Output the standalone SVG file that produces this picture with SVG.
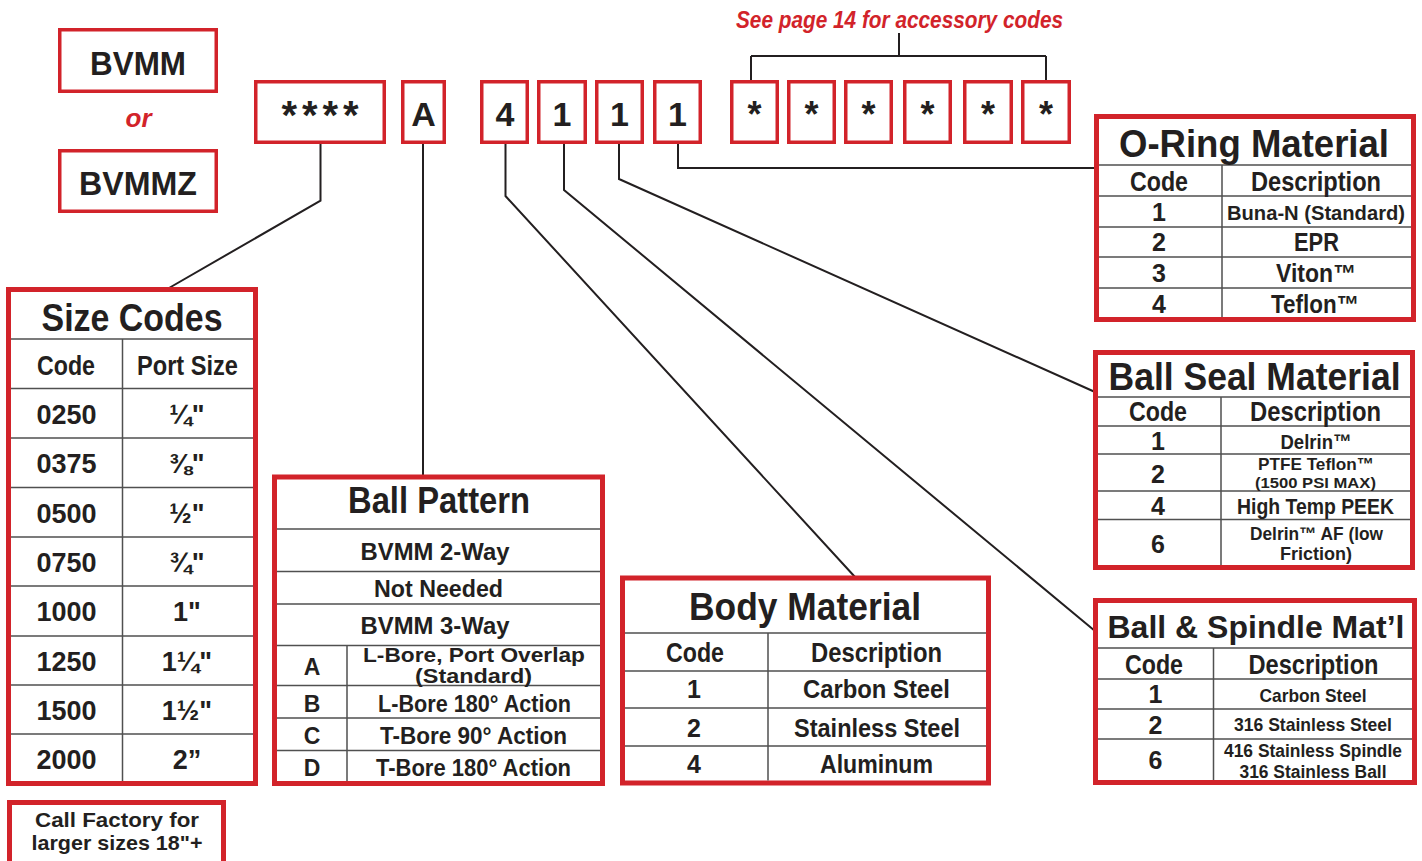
<svg xmlns="http://www.w3.org/2000/svg" width="1422" height="861" viewBox="0 0 1422 861">
<style>
.t{font-family:"Liberation Sans",Arial,sans-serif;font-weight:bold;fill:#231f20;text-anchor:middle}
.ri{fill:#d2232a;font-style:italic}
.box{fill:#fff;stroke:#d2232a;stroke-width:5}
.cbox{fill:#fff;stroke:#d2232a;stroke-width:3.5}
.grid{stroke:#505050;stroke-width:1.5;fill:none}
.conn{stroke:#231f20;stroke-width:2;fill:none}
.h{font-size:38px}
.hd{font-size:27px}
.c{font-size:34px}
</style>
<rect width="1422" height="861" fill="#fff"/>

<g id="connectors">
<path class="conn" d="M320.5 144 V200.7 L169 288"/>
<path class="conn" d="M423 144 V476"/>
<path class="conn" d="M505.5 144 V196 L855 577"/>
<path class="conn" d="M564 144 V190 L1095 631"/>
<path class="conn" d="M619 144 V179 L1095 392"/>
<path class="conn" d="M678 144 V168 H1095"/>
<path class="conn" d="M899 33 V56 M751 56 H1046 M751 56 V81 M1046 56 V81"/>
</g>

<g id="prefix-bvmm">
<rect class="cbox" x="59.75" y="29.75" width="156.5" height="61.5"/>
<text class="t" x="138" y="75" font-size="34" textLength="96" lengthAdjust="spacingAndGlyphs">BVMM</text>
</g>
<g id="or">
<text class="t ri" x="138.5" y="127" font-size="26">or</text>
</g>
<g id="prefix-bvmmz">
<rect class="cbox" x="59.75" y="150.75" width="156.5" height="60.5"/>
<text class="t" x="138" y="195" font-size="34" textLength="118" lengthAdjust="spacingAndGlyphs">BVMMZ</text>
</g>

<g id="code-size">
<rect class="cbox" x="255.75" y="81.75" width="128.5" height="60.5"/>
<text class="t" x="320" y="129" font-size="40" textLength="77">****</text>
</g>
<g id="code-a">
<rect class="cbox" x="402.75" y="81.75" width="41.5" height="60.5"/>
<text class="t c" x="423.5" y="126">A</text>
</g>
<g id="code-4">
<rect class="cbox" x="481.75" y="81.75" width="45.5" height="60.5"/>
<text class="t c" x="505" y="126">4</text>
</g>
<g id="code-1a">
<rect class="cbox" x="538.75" y="81.75" width="46.5" height="60.5"/>
<text class="t c" x="562" y="126">1</text>
</g>
<g id="code-1b">
<rect class="cbox" x="596.75" y="81.75" width="45.5" height="60.5"/>
<text class="t c" x="619.5" y="126">1</text>
</g>
<g id="code-1c">
<rect class="cbox" x="654.75" y="81.75" width="45.5" height="60.5"/>
<text class="t c" x="677.5" y="126">1</text>
</g>
<g id="acc-1"><rect class="cbox" x="731.75" y="81.75" width="45.5" height="60.5"/><text class="t" x="754.5" y="127" font-size="36">*</text></g>
<g id="acc-2"><rect class="cbox" x="788.75" y="81.75" width="45.5" height="60.5"/><text class="t" x="811.5" y="127" font-size="36">*</text></g>
<g id="acc-3"><rect class="cbox" x="845.75" y="81.75" width="45.5" height="60.5"/><text class="t" x="868.5" y="127" font-size="36">*</text></g>
<g id="acc-4"><rect class="cbox" x="904.75" y="81.75" width="45.5" height="60.5"/><text class="t" x="927.5" y="127" font-size="36">*</text></g>
<g id="acc-5"><rect class="cbox" x="964.75" y="81.75" width="46.5" height="60.5"/><text class="t" x="988" y="127" font-size="36">*</text></g>
<g id="acc-6"><rect class="cbox" x="1022.75" y="81.75" width="46.5" height="60.5"/><text class="t" x="1046" y="127" font-size="36">*</text></g>

<g id="accessory-note">
<text class="t ri" x="899.5" y="28" font-size="23" textLength="327" lengthAdjust="spacingAndGlyphs">See page 14 for accessory codes</text>
</g>

<g id="oring-table">
<rect class="box" x="1096.5" y="116.5" width="317" height="203"/>
<path class="grid" d="M1099 165 H1411 M1099 196 H1411 M1099 227 H1411 M1099 257 H1411 M1099 288 H1411 M1222 165 V317"/>
<text class="t h" x="1254" y="157" textLength="270" lengthAdjust="spacingAndGlyphs">O-Ring Material</text>
<text class="t hd" x="1159" y="191" textLength="58" lengthAdjust="spacingAndGlyphs">Code</text>
<text class="t hd" x="1316" y="191" textLength="130" lengthAdjust="spacingAndGlyphs">Description</text>
<text class="t" x="1159" y="221" font-size="25">1</text>
<text class="t" x="1316" y="219.5" font-size="21" textLength="178" lengthAdjust="spacingAndGlyphs">Buna-N (Standard)</text>
<text class="t" x="1159" y="251" font-size="25">2</text>
<text class="t" x="1316.5" y="250.5" font-size="25" textLength="45" lengthAdjust="spacingAndGlyphs">EPR</text>
<text class="t" x="1159" y="282" font-size="25">3</text>
<text class="t" x="1316" y="282" font-size="25" textLength="80" lengthAdjust="spacingAndGlyphs">Viton™</text>
<text class="t" x="1159" y="313" font-size="25">4</text>
<text class="t" x="1315" y="313" font-size="25" textLength="88" lengthAdjust="spacingAndGlyphs">Teflon™</text>
</g>

<g id="ballseal-table">
<rect class="box" x="1095.5" y="352.5" width="317" height="215"/>
<path class="grid" d="M1098 397 H1410 M1098 426 H1410 M1098 454 H1410 M1098 491 H1410 M1098 519.5 H1410 M1221 397 V565"/>
<text class="t h" x="1254.5" y="390" textLength="292" lengthAdjust="spacingAndGlyphs">Ball Seal Material</text>
<text class="t hd" x="1158" y="421" textLength="58" lengthAdjust="spacingAndGlyphs">Code</text>
<text class="t hd" x="1315.5" y="421" textLength="131" lengthAdjust="spacingAndGlyphs">Description</text>
<text class="t" x="1158" y="449.5" font-size="25">1</text>
<text class="t" x="1316" y="448.5" font-size="21" textLength="71" lengthAdjust="spacingAndGlyphs">Delrin™</text>
<text class="t" x="1158" y="482.5" font-size="25">2</text>
<text class="t" x="1316" y="470" font-size="17" textLength="116" lengthAdjust="spacingAndGlyphs">PTFE Teflon™</text>
<text class="t" x="1315.5" y="487.5" font-size="14" textLength="121" lengthAdjust="spacingAndGlyphs">(1500 PSI MAX)</text>
<text class="t" x="1158" y="515" font-size="25">4</text>
<text class="t" x="1315.5" y="513.5" font-size="22" textLength="157" lengthAdjust="spacingAndGlyphs">High Temp PEEK</text>
<text class="t" x="1158" y="552.5" font-size="25">6</text>
<text class="t" x="1316.5" y="540" font-size="18" textLength="133" lengthAdjust="spacingAndGlyphs">Delrin™ AF (low</text>
<text class="t" x="1316" y="560" font-size="18" textLength="72" lengthAdjust="spacingAndGlyphs">Friction)</text>
</g>

<g id="ballspindle-table">
<rect class="box" x="1095.5" y="600.5" width="319" height="182"/>
<path class="grid" d="M1098 648 H1412 M1098 679 H1412 M1098 709 H1412 M1098 739 H1412 M1213.5 648 V780"/>
<text class="t" x="1256" y="638" font-size="31.5" textLength="297" lengthAdjust="spacingAndGlyphs">Ball &amp; Spindle Mat’l</text>
<text class="t hd" x="1154" y="673.5" textLength="58" lengthAdjust="spacingAndGlyphs">Code</text>
<text class="t hd" x="1313.5" y="673.5" textLength="130" lengthAdjust="spacingAndGlyphs">Description</text>
<text class="t" x="1155.5" y="703" font-size="25">1</text>
<text class="t" x="1313" y="702" font-size="19" textLength="107" lengthAdjust="spacingAndGlyphs">Carbon Steel</text>
<text class="t" x="1155.5" y="733.5" font-size="25">2</text>
<text class="t" x="1313" y="731" font-size="19" textLength="158" lengthAdjust="spacingAndGlyphs">316 Stainless Steel</text>
<text class="t" x="1155.5" y="768.5" font-size="25">6</text>
<text class="t" x="1313" y="756.5" font-size="18" textLength="178" lengthAdjust="spacingAndGlyphs">416 Stainless Spindle</text>
<text class="t" x="1313" y="778" font-size="18" textLength="147" lengthAdjust="spacingAndGlyphs">316 Stainless Ball</text>
</g>

<g id="body-table">
<rect class="box" x="622.5" y="578" width="366" height="205"/>
<path class="grid" d="M625 633 H986 M625 671 H986 M625 708 H986 M625 746 H986 M768 633 V780.5"/>
<text class="t h" x="805" y="620" textLength="232" lengthAdjust="spacingAndGlyphs">Body Material</text>
<text class="t hd" x="695" y="662" textLength="58" lengthAdjust="spacingAndGlyphs">Code</text>
<text class="t hd" x="876.5" y="662" textLength="131" lengthAdjust="spacingAndGlyphs">Description</text>
<text class="t" x="694" y="698" font-size="25">1</text>
<text class="t" x="876.5" y="698" font-size="25" textLength="147" lengthAdjust="spacingAndGlyphs">Carbon Steel</text>
<text class="t" x="694" y="737" font-size="25">2</text>
<text class="t" x="877" y="737" font-size="25" textLength="166" lengthAdjust="spacingAndGlyphs">Stainless Steel</text>
<text class="t" x="694" y="772.5" font-size="25">4</text>
<text class="t" x="876.5" y="772.5" font-size="25" textLength="113" lengthAdjust="spacingAndGlyphs">Aluminum</text>
</g>

<g id="ballpattern-table">
<rect class="box" x="274.5" y="477" width="328" height="306.5"/>
<path class="grid" d="M277 529 H600 M277 571.5 H600 M277 604 H600 M277 645.5 H600 M277 685.5 H600 M277 718 H600 M277 750.5 H600 M347 645.5 V781"/>
<text class="t" x="439" y="513" font-size="36" textLength="182" lengthAdjust="spacingAndGlyphs">Ball Pattern</text>
<text class="t" x="435" y="560" font-size="23" textLength="149" lengthAdjust="spacingAndGlyphs">BVMM 2-Way</text>
<text class="t" x="438.5" y="597" font-size="23" textLength="129" lengthAdjust="spacingAndGlyphs">Not Needed</text>
<text class="t" x="435" y="634" font-size="23" textLength="149" lengthAdjust="spacingAndGlyphs">BVMM 3-Way</text>
<text class="t" x="312" y="675" font-size="23">A</text>
<text class="t" x="474" y="662" font-size="20" textLength="222" lengthAdjust="spacingAndGlyphs">L-Bore, Port Overlap</text>
<text class="t" x="473.5" y="683" font-size="20" textLength="117" lengthAdjust="spacingAndGlyphs">(Standard)</text>
<text class="t" x="312" y="712" font-size="23">B</text>
<text class="t" x="474.5" y="712" font-size="23" textLength="193" lengthAdjust="spacingAndGlyphs">L-Bore 180° Action</text>
<text class="t" x="312" y="744" font-size="23">C</text>
<text class="t" x="473.5" y="744" font-size="23" textLength="187" lengthAdjust="spacingAndGlyphs">T-Bore 90° Action</text>
<text class="t" x="312" y="776" font-size="23">D</text>
<text class="t" x="473.5" y="776" font-size="23" textLength="195" lengthAdjust="spacingAndGlyphs">T-Bore 180° Action</text>
</g>

<g id="size-table">
<rect class="box" x="8.5" y="289.5" width="247" height="494"/>
<path class="grid" d="M11 339 H253 M11 388.5 H253 M11 438 H253 M11 487.5 H253 M11 537 H253 M11 586 H253 M11 636 H253 M11 685 H253 M11 734 H253 M122.5 339 V781"/>
<text class="t h" x="132" y="331" textLength="181" lengthAdjust="spacingAndGlyphs">Size Codes</text>
<text class="t hd" x="66" y="375" textLength="58" lengthAdjust="spacingAndGlyphs">Code</text>
<text class="t hd" x="187.5" y="375" textLength="101" lengthAdjust="spacingAndGlyphs">Port Size</text>
<g font-size="27">
<text class="t" x="66.5" y="424">0250</text><text class="t" x="187" y="424">¼"</text>
<text class="t" x="66.5" y="473">0375</text><text class="t" x="187" y="473">⅜"</text>
<text class="t" x="66.5" y="522.5">0500</text><text class="t" x="187" y="522.5">½"</text>
<text class="t" x="66.5" y="572">0750</text><text class="t" x="187" y="572">¾"</text>
<text class="t" x="66.5" y="621">1000</text><text class="t" x="187" y="621">1"</text>
<text class="t" x="66.5" y="670.5">1250</text><text class="t" x="187" y="670.5">1¼"</text>
<text class="t" x="66.5" y="720">1500</text><text class="t" x="187" y="720">1½"</text>
<text class="t" x="66.5" y="769">2000</text><text class="t" x="187" y="769">2”</text>
</g>
</g>

<g id="call-factory">
<rect class="box" x="9.5" y="802.5" width="214" height="72"/>
<text class="t" x="117" y="826.5" font-size="21" textLength="164" lengthAdjust="spacingAndGlyphs">Call Factory for</text>
<text class="t" x="117" y="850" font-size="21" textLength="171" lengthAdjust="spacingAndGlyphs">larger sizes 18"+</text>
</g>
</svg>
